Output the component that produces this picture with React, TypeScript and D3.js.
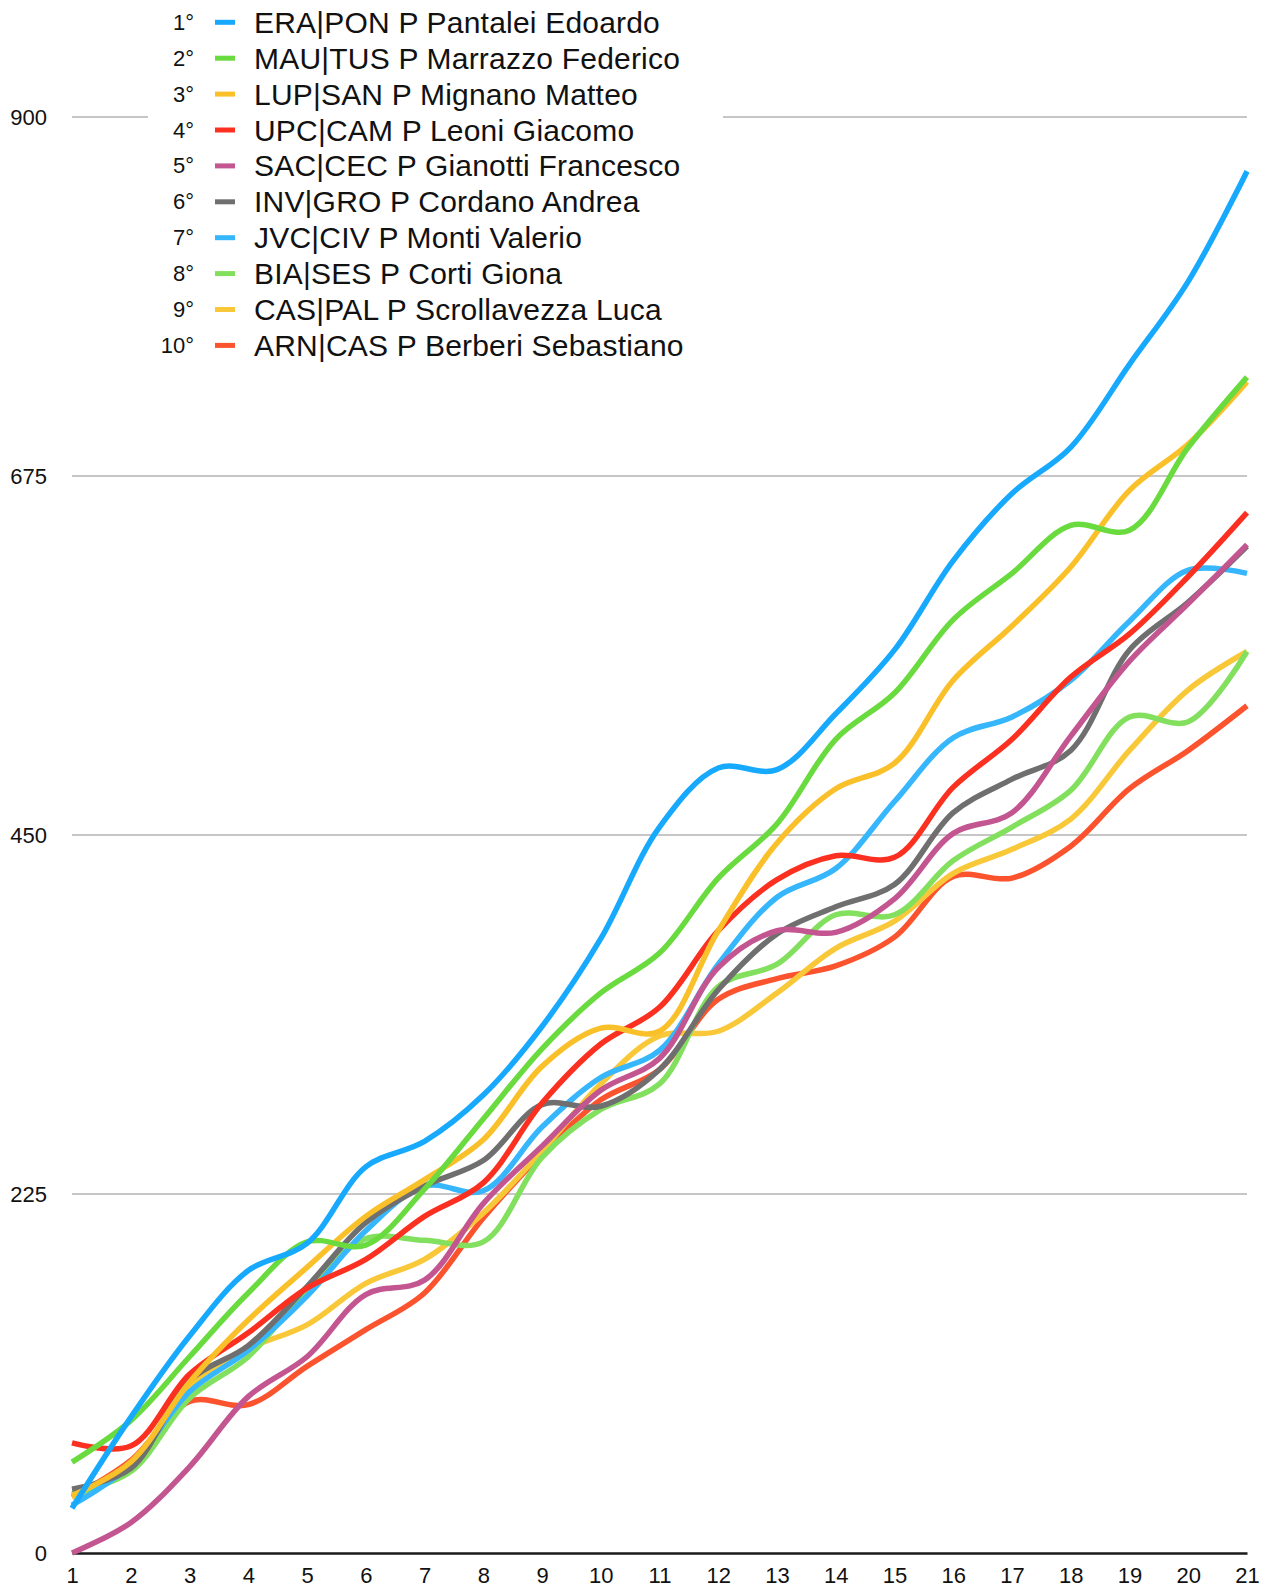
import { useEffect, useRef } from 'react'
import * as d3 from 'd3'

const rounds = [1, 2, 3, 4, 5, 6, 7, 8, 9, 10, 11, 12, 13, 14, 15, 16, 17, 18, 19, 20, 21]
const yTicks = [0, 225, 450, 675, 900]

const ranks = ['1°', '2°', '3°', '4°', '5°', '6°', '7°', '8°', '9°', '10°']
const names = [
  'ERA|PON P Pantalei Edoardo',
  'MAU|TUS P Marrazzo Federico',
  'LUP|SAN P Mignano Matteo',
  'UPC|CAM P Leoni Giacomo',
  'SAC|CEC P Gianotti Francesco',
  'INV|GRO P Cordano Andrea',
  'JVC|CIV P Monti Valerio',
  'BIA|SES P Corti Giona',
  'CAS|PAL P Scrollavezza Luca',
  'ARN|CAS P Berberi Sebastiano',
]
const colors = ['#17a9fd', '#6adb3f', '#fac02a', '#fb3021', '#c35691', '#6f6f6f', '#36b6fc', '#83e05e', '#f9c838', '#fc532f']

const era = [28, 85, 136, 177, 194, 242, 258, 287, 330, 385, 455, 492, 491, 526, 566, 622, 664, 693, 745, 797, 866]
const mau = [57, 83, 123, 163, 195, 193, 228, 272, 316, 351, 376, 423, 457, 510, 539, 585, 614, 644, 641, 693, 737]
const lup = [36, 57, 107, 146, 179, 211, 234, 259, 305, 329, 327, 390, 445, 479, 495, 547, 581, 618, 666, 695, 734]
const upc = [69, 67, 112, 138, 166, 184, 211, 232, 282, 319, 342, 390, 422, 437, 436, 480, 510, 549, 576, 612, 652]
const sac = [0, 19, 54, 98, 123, 162, 171, 219, 255, 290, 310, 367, 390, 389, 410, 451, 464, 512, 559, 595, 632]
const inv = [40, 53, 108, 130, 167, 207, 230, 246, 281, 280, 303, 353, 388, 405, 419, 464, 485, 503, 566, 596, 631]
const jvc = [30, 55, 101, 127, 161, 202, 230, 227, 267, 298, 315, 369, 411, 429, 471, 511, 524, 547, 584, 616, 614]
const bia = [37, 51, 97, 123, 165, 197, 196, 195, 248, 278, 294, 355, 369, 400, 400, 434, 455, 478, 524, 521, 565]
const cas = [35, 55, 105, 128, 143, 169, 184, 213, 252, 294, 324, 327, 351, 379, 396, 426, 441, 460, 503, 541, 565]
const arn = [35, 58, 95, 93, 117, 140, 163, 210, 250, 284, 303, 347, 360, 368, 386, 424, 423, 443, 479, 503, 531]

const series = [era, mau, lup, upc, sac, inv, jvc, bia, cas, arn]

const W = 1268
const H = 1589
const FONT = '"Helvetica Neue", Helvetica, "Liberation Sans", Arial, sans-serif'

export default function App() {
  const svgRef = useRef<SVGSVGElement>(null)

  useEffect(() => {
    const svgEl = svgRef.current
    if (!svgEl) return

    const x = d3.scaleLinear().domain([1, 21]).range([72, 1247])
    const y = d3.scaleLinear().domain([0, 900]).range([1553, 117])

    const svg = d3.select(svgEl)
    svg.selectAll('*').remove()

    // Gridlines
    svg.append('g')
      .selectAll('line')
      .data(yTicks.filter(d => d > 0))
      .join('line')
      .attr('x1', x(1))
      .attr('x2', x(21))
      .attr('y1', d => y(d))
      .attr('y2', d => y(d))
      .style('stroke', '#c6c6c6')
      .style('stroke-width', '2')

    // Y labels
    svg.append('g')
      .selectAll('text')
      .data(yTicks)
      .join('text')
      .attr('x', 47)
      .attr('y', d => y(d))
      .attr('text-anchor', 'end')
      .attr('dominant-baseline', 'central')
      .style('font-family', FONT)
      .style('font-size', '22px')
      .style('fill', '#111')
      .text(d => String(d))

    // X axis
    const xAxisG = svg.append('g').attr('transform', `translate(0,${y(0)})`)
    xAxisG.call(d3.axisBottom(x).tickValues(rounds).tickSize(0).tickPadding(14).tickFormat(d => String(d)))
    xAxisG.select('.domain').style('stroke', '#1a1a1a').style('stroke-width', '2.5')
    xAxisG.selectAll('text')
      .style('font-family', FONT)
      .style('font-size', '22px')
      .style('fill', '#111')

    // Lines
    const line = d3.line<number>()
      .x((_, i) => x(rounds[i]))
      .y(d => y(d))
      .curve(d3.curveCatmullRom.alpha(0.5))

    const order = series.map((_, i) => i).reverse()
    svg.append('g')
      .selectAll('path')
      .data(order)
      .join('path')
      .attr('fill', 'none')
      .attr('d', i => line(series[i]))
      .style('stroke', i => colors[i])
      .style('stroke-width', '5.5')
      .style('stroke-linejoin', 'round')

    // Legend
    const lg = svg.append('g')
    lg.append('rect')
      .attr('x', 148).attr('y', 0)
      .attr('width', 575).attr('height', 362)
      .style('fill', '#fff')

    const rowY = (i: number) => 22.3 + i * 35.9
    const rows = lg.selectAll('g.row').data(names).join('g').attr('class', 'row')
    rows.append('text')
      .attr('x', 194)
      .attr('y', (_, i) => rowY(i))
      .attr('text-anchor', 'end')
      .attr('dominant-baseline', 'central')
      .style('font-family', FONT)
      .style('font-size', '22px')
      .style('fill', '#111')
      .text((_, i) => ranks[i])
    rows.append('rect')
      .attr('x', 215)
      .attr('y', (_, i) => rowY(i) - 2.5)
      .attr('width', 20)
      .attr('height', 5)
      .style('fill', (_, i) => colors[i])
    rows.append('text')
      .attr('x', 254)
      .attr('y', (_, i) => rowY(i))
      .attr('dominant-baseline', 'central')
      .style('font-family', FONT)
      .style('font-size', '30px')
      .style('letter-spacing', '0.2px')
      .style('fill', '#111')
      .text(d => d)
  }, [])

  return (
    <div style={{ position: 'absolute', left: 0, top: 0, width: W, height: H, background: '#fff' }}>
      <svg ref={svgRef} width={W} height={H} />
    </div>
  )
}
